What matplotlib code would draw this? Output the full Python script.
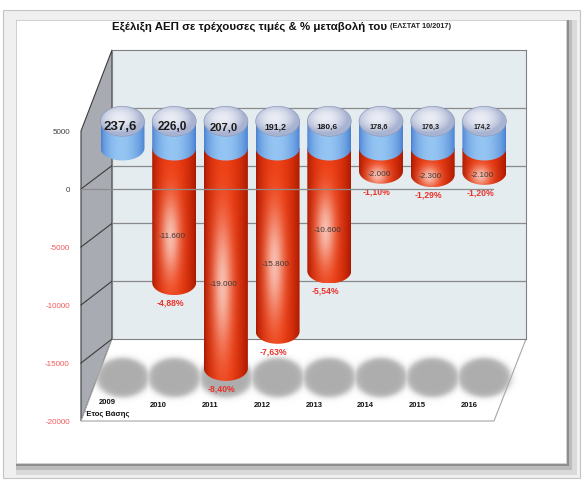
import numpy as np
import matplotlib
matplotlib.use("Agg")
import matplotlib.pyplot as plt
from matplotlib.patches import Ellipse, Polygon, Rectangle, PathPatch
from matplotlib.path import Path

plt.rcParams['font.family'] = ['Liberation Sans', 'DejaVu Sans']

# values
years = ["2009", "2010", "2011", "2012", "2013", "2014", "2015", "2016"]
gdp_bn = [237.6, 226.0, 207.0, 191.2, 180.6, 178.6, 176.3, 174.2]
change_mn = [0, -11600, -19000, -15800, -10600, -2000, -2300, -2100]
change_pct = [None, -4.88, -8.40, -7.63, -5.54, -1.10, -1.29, -1.20]
y_ticks = [5000, 0, -5000, -10000, -15000, -20000]

title = "Εξέλιξη ΑΕΠ σε τρέχουσες τιμές & % μεταβολή του"
source = "(ΕΛΣΤΑΤ 10/2017)"
base_label = "Έτος Βάσης"

# styling
gdp_fontsize = [9.5, 8.5, 8.0, 6.3, 6.0, 5.3, 5.1, 4.9]
cap_height = 2300          # blue "label" cylinder sitting on zero
W, H = 584, 483
X0, DX = 122.5, 51.7       # px of first column, px per category
Y0, K = 148.0, 0.0116      # px of zero in the column plane, px per unit
bar_w = 0.85
hh_top = 15 / K
hh_low = 12.5 / K


def frac(x0, y0, x1, y1):
    return [x0 / W, 1 - y1 / H, (x1 - x0) / W, (y1 - y0) / H]


fig = plt.figure(figsize=(W / 100, H / 100), dpi=100)

# background / frame, pixel coordinates
bg = fig.add_axes([0, 0, 1, 1], zorder=0)
bg.set_xlim(0, W)
bg.set_ylim(H, 0)
bg.axis('off')
bg.add_patch(Rectangle((3, 10), 577, 468, fc='#f0f0f0', ec='#c4c4c4', lw=0.8))
bg.add_patch(Rectangle((16, 20), 561, 455, fc='#dadada', ec='none'))
bg.add_patch(Rectangle((16, 20), 556, 450, fc='#bcbcbc', ec='none'))
bg.add_patch(Rectangle((16, 20), 553, 446, fc='#8e8e8e', ec='none'))
bg.add_patch(Rectangle((16, 20), 550, 443, fc='white', ec='#d4d4d4', lw=0.6))

t = bg.text(112, 27, title, fontsize=8.25, weight='bold', va='center', ha='left', color='#111111')
bg.annotate(source, xy=(1, 0.2), xycoords=t, xytext=(2, 0), textcoords='offset points',
            fontsize=5.3, weight='bold', va='bottom', ha='left', color='#222222')

# back wall
axb = fig.add_axes(frac(112, 50, 526, 339), zorder=1)
axb.set_xlim(0, 1)
axb.set_ylim(-15000, 10000)
axb.set_facecolor('#e4ecf0')
axb.set_yticks([-10000, -5000, 0, 5000])
axb.set_xticks([])
axb.tick_params(left=False, labelleft=False)
axb.grid(axis='y', color='#8a8a8a', lw=0.9)
for s in axb.spines.values():
    s.set_color('#808080')
    s.set_linewidth(0.8)

# front value axis (labels + zero line)
axf = fig.add_axes(frac(81, 131, 494, 421), zorder=3)
axf.set_xlim(0, 1)
axf.set_ylim(-20000, 5000)
axf.patch.set_visible(False)
for s in axf.spines.values():
    s.set_visible(False)
axf.set_xticks([])
axf.set_yticks(y_ticks)
axf.set_yticklabels([str(v) for v in y_ticks])
axf.tick_params(axis='y', length=0, pad=8, labelsize=5.8)
for lab, v in zip(axf.get_yticklabels(), y_ticks):
    lab.set_color('#404040' if v >= 0 else '#f05a5a')
axf.axhline(0, color='#8c8c8c', lw=0.9)


def to_bg(ax, x, v):
    return bg.transData.inverted().transform(ax.transData.transform((x, v)))


# side wall and floor
ft, fb = to_bg(axf, 0, 5000), to_bg(axf, 0, -20000)
bt, bb = to_bg(axb, 0, 10000), to_bg(axb, 0, -15000)
bg.add_patch(Polygon([ft, bt, bb, fb], closed=True, fc='#a9abb3', ec='#3c3c3c', lw=0.8))
for v in [0, -5000, -10000, -15000]:
    p1, p2 = to_bg(axf, 0, v), to_bg(axb, 0, v)
    bg.plot([p1[0], p2[0]], [p1[1], p2[1]], color='#3c3c3c', lw=0.8)
bg.add_patch(Polygon([fb, to_bg(axf, 1, -20000), to_bg(axb, 1, -15000), bb], closed=True,
                     fc='white', ec='#a6a6a6', lw=0.8))

# column plane
axm = fig.add_axes([0, 0, 1, 1], zorder=2)
axm.axis('off')

# blurred shadows on the floor
sh_y = (Y0 - 378) / K
xs = np.linspace(-0.8, len(years) - 0.2, 500)
ys = np.linspace(sh_y - 2600, sh_y + 2600, 120)
XX, YY = np.meshgrid(xs, ys)
alpha = np.zeros_like(XX)
for i in range(len(years)):
    r = np.sqrt(((XX - i) / 0.55) ** 2 + ((YY - sh_y) / (21 / K)) ** 2)
    alpha = np.maximum(alpha, 1 / (1 + np.exp((r - 0.93) / 0.07)))
rgba = np.zeros(XX.shape + (4,))
rgba[..., :3] = 0.68
rgba[..., 3] = alpha
axm.imshow(rgba, extent=[xs[0], xs[-1], ys[0], ys[-1]], origin='lower', aspect='auto',
           zorder=1, interpolation='bilinear')


def body_path(xc, ybot, ytop):
    th = np.linspace(np.pi, 2 * np.pi, 50)
    arc = np.column_stack([xc + bar_w / 2 * np.cos(th), ybot + hh_low * np.sin(th)])
    verts = np.vstack([[xc - bar_w / 2, ytop], arc, [xc + bar_w / 2, ytop], [xc - bar_w / 2, ytop]])
    return Path(verts, closed=True)


def shade(ybot, ytop, dark, mid, light, yhl, strength):
    nx, ny = 60, 160
    u = np.linspace(0, 1, nx)[None, :]
    yy = np.linspace(ybot - hh_low, ytop, ny)[:, None]
    prof = np.sin(np.pi * u ** 0.9) ** 0.7
    dark, mid, light = np.array(dark), np.array(mid), np.array(light)
    base = dark + (mid - dark) * prof[..., None]
    base = np.broadcast_to(base, (ny, nx, 3))
    sig = max(10, 0.3 * (ytop - ybot) * K)
    hl = strength * np.exp(-((yy - yhl) * K / sig) ** 2 - ((u - 0.42) / 0.22) ** 2)
    return base * (1 - hl[..., None]) + light * hl[..., None]


def draw_body(xc, ybot, ytop, img, z):
    patch = PathPatch(body_path(xc, ybot, ytop), fc='none', ec='none', transform=axm.transData)
    axm.add_patch(patch)
    im = axm.imshow(img, extent=[xc - bar_w / 2, xc + bar_w / 2, ybot - hh_low, ytop],
                    origin='lower', aspect='auto', zorder=z, interpolation='bilinear')
    im.set_clip_path(patch)


for i, (g, c, p) in enumerate(zip(gdp_bn, change_mn, change_pct)):
    if c < 0:
        yhl = c * 0.557 - 1207
        img = shade(c, 0, (0.66, 0.09, 0.0), (0.93, 0.24, 0.07), (0.98, 0.86, 0.83), yhl, 0.8)
        draw_body(i, c, 0, img, 3)
        axm.text(i - 0.04, yhl, f"{c:,}".replace(',', '.'), ha='center', va='center',
                 fontsize=5.9, color='#3a3a3a', zorder=7)
        axm.text(i - 0.08, c - 20.5 / K, f"{p:.2f}%".replace('.', ','), ha='center', va='center',
                 fontsize=6.2, weight='bold', color='#e8332a', zorder=7)
    img = shade(0, cap_height, (0.28, 0.50, 0.82), (0.58, 0.77, 0.95), (0.80, 0.89, 0.99),
                cap_height, 0.5)
    draw_body(i, 0, cap_height, img, 4)

    # top face
    n = 80
    uu, vv = np.meshgrid(np.linspace(-1, 1, n), np.linspace(-1, 1, n))
    r = np.clip(np.sqrt((uu + 0.15) ** 2 + (vv - 0.2) ** 2), 0, 1)
    center, rim = np.array([0.92, 0.93, 0.96]), np.array([0.66, 0.70, 0.82])
    top = rim + (center - rim) * (1 - r ** 2)[..., None]
    ell = Ellipse((i, cap_height), bar_w, 2 * hh_top, fc='none', ec='#8e9bbd', lw=0.5, zorder=6)
    axm.add_patch(ell)
    im = axm.imshow(top, extent=[i - bar_w / 2, i + bar_w / 2, cap_height - hh_top, cap_height + hh_top],
                    origin='lower', aspect='auto', zorder=5, interpolation='bilinear')
    im.set_clip_path(ell)
    axm.text(i - 0.04, cap_height - 500, f"{g:.1f}".replace('.', ','), ha='center', va='center',
             fontsize=gdp_fontsize[i], weight='bold', color='#1c1c1c', zorder=7)

    # category label on the floor
    axm.text(i - 0.3, (Y0 - (402 if i == 0 else 405)) / K, years[i], ha='center', va='center',
             fontsize=5.5, weight='bold', color='#111111', zorder=7)

axm.text(-0.3, (Y0 - 414) / K, base_label, ha='center', va='center',
         fontsize=5.5, weight='bold', color='#111111', zorder=7)

axm.set_xlim(-X0 / DX, (W - X0) / DX)
axm.set_ylim((Y0 - H) / K, Y0 / K)

fig.savefig("out.png", dpi=100)
